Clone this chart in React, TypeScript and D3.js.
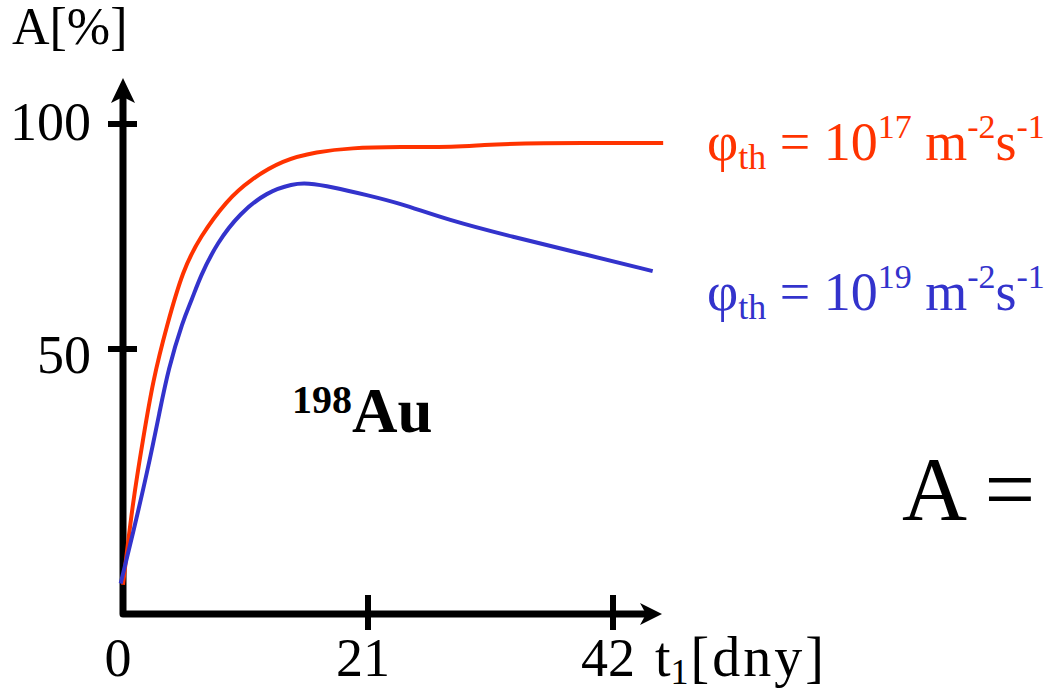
import React from "react";
import * as d3 from "d3";

const xTicks = [0, 21, 42];
const yTicks = [50, 100];

const redDays = [0, 0.86, 1.71, 2.57, 3.77, 5.14, 6.6, 8.91, 10.9, 13.7, 16.6, 19.5, 23.7, 28.6, 30.6, 34.9, 46.3];
const redValues = [-2.4, 16.4, 29.8, 43.1, 55.3, 67.6, 74.9, 83.1, 87.6, 92, 93.8, 94.7, 94.9, 94.9, 95.3, 95.8, 95.8];

const blueDays = [-0.2, 0.86, 2.06, 3.17, 3.86, 5.14, 5.9, 6.6, 8.06, 10.03, 12.34, 14.57, 15.77, 18, 20.9, 23.74, 27.8, 33.4, 39.2, 45.4];
const blueValues = [-2.1, 9.1, 22.4, 36.4, 45.3, 56.4, 60.9, 66, 73.6, 80.2, 84.9, 86.7, 86.9, 86, 84.2, 82.4, 78.7, 74.9, 71.3, 67.3];

const seriesLabels = ["17", "19"];

const RED = "#ff3300";
const BLUE = "#3333cc";
const FONT = "'Liberation Serif', 'Times New Roman', Times, serif";

export default function App() {
  const x = d3.scaleLinear().domain([0, 42]).range([123, 613]);
  const y = d3.scaleLinear().domain([0, 100]).range([574, 124]);
  const axisY = 614;
  const axisX = x(0);

  const line = d3
    .line<[number, number]>()
    .x((d) => x(d[0]))
    .y((d) => y(d[1]))
    .curve(d3.curveBasis);

  const red: [number, number][] = redDays.map((d, i) => [d, redValues[i]]);
  const blue: [number, number][] = blueDays.map((d, i) => [d, blueValues[i]]);

  const yLabelOffset: Record<number, number> = { 100: 16, 50: 24 };

  const legend = (exp: string, color: string, baseY: number) => (
    <text x={707} y={baseY} fill={color} fontFamily={FONT} fontSize={54}>
      <tspan>φ</tspan>
      <tspan fontSize={36} dy={9}>th</tspan>
      <tspan dy={-9}>{" = 10"}</tspan>
      <tspan fontSize={34} dy={-22}>{exp}</tspan>
      <tspan dy={22}>{" m"}</tspan>
      <tspan fontSize={34} dy={-22}>-2</tspan>
      <tspan dy={22}>s</tspan>
      <tspan fontSize={34} dy={-22}>-1</tspan>
    </text>
  );

  return (
    <svg
      width={1044}
      height={689}
      style={{ position: "absolute", left: 0, top: 0, background: "#fff" }}
    >
      <rect width={1044} height={689} fill="#fff" />

      {/* axes */}
      <path
        d={`M${axisX},92 L${axisX},${axisY} L652,${axisY}`}
        fill="none"
        stroke="#000"
        strokeWidth={7}
        strokeLinejoin="round"
      />
      <path d={`M${axisX},78 L${axisX + 12},103 L${axisX},97 L${axisX - 12},103 Z`} fill="#000" />
      <path d={`M662,${axisY} L640,${axisY - 11} L646,${axisY} L640,${axisY + 11} Z`} fill="#000" />

      {yTicks.map((t) => (
        <g key={`y${t}`}>
          <line x1={108} x2={137} y1={y(t)} y2={y(t)} stroke="#000" strokeWidth={6} />
          <text
            x={91}
            y={y(t) + yLabelOffset[t]}
            textAnchor="end"
            fontFamily={FONT}
            fontSize={54}
            fill="#000"
          >
            {t}
          </text>
        </g>
      ))}
      {xTicks.map((t) => (
        <g key={`x${t}`}>
          {t > 0 && (
            <line x1={x(t)} x2={x(t)} y1={595} y2={630} stroke="#000" strokeWidth={6} />
          )}
          <text
            x={x(t) - 5}
            y={676}
            textAnchor="middle"
            fontFamily={FONT}
            fontSize={54}
            fill="#000"
          >
            {t}
          </text>
        </g>
      ))}

      {/* curves (drawn over the axes) */}
      <path d={line(red) || ""} fill="none" stroke={RED} strokeWidth={4} />
      <path d={line(blue) || ""} fill="none" stroke={BLUE} strokeWidth={4} />

      {/* axis titles */}
      <text x={12} y={44} fontFamily={FONT} fontSize={52} fill="#000">
        A[%]
      </text>
      <text x={655} y={676} fontFamily={FONT} fontSize={56} fill="#000">
        <tspan fill="#000">t</tspan>
        <tspan fill="#000" fontSize={36} dy={8}>1</tspan>
        <tspan fill="#000" dy={-8} dx={2} letterSpacing={3}>[dny]</tspan>
      </text>

      {/* legend */}
      {legend(seriesLabels[0], RED, 160)}
      {legend(seriesLabels[1], BLUE, 310)}

      {/* annotation */}
      <text x={292} y={432} fontFamily={FONT} fontWeight="bold" fill="#000">
        <tspan fontSize={40} dy={-19}>198</tspan>
        <tspan fontSize={63} dy={19}>Au</tspan>
      </text>

      <text x={902} y={520} fontFamily={FONT} fontSize={90} fill="#000">
        A =
      </text>
    </svg>
  );
}
